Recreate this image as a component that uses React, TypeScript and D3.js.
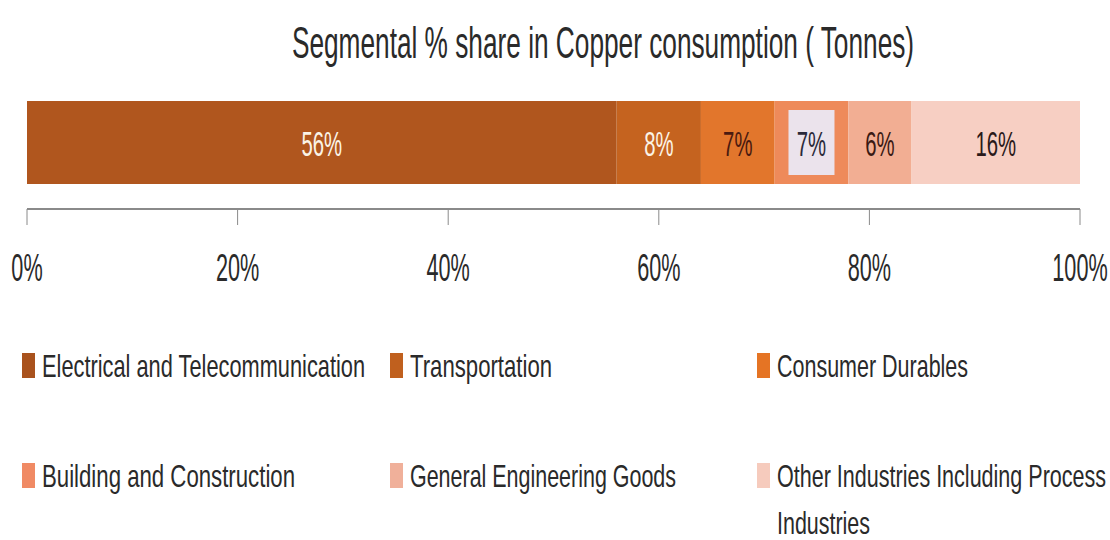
import React, { useLayoutEffect, useRef, useState } from "react";
import * as d3 from "d3";

const categories = [
  "Electrical and Telecommunication",
  "Transportation",
  "Consumer Durables",
  "Building and Construction",
  "General Engineering Goods",
  "Other Industries Including Process Industries",
];
const shares = [56, 8, 7, 7, 6, 16];
const barColors = ["#b0561e", "#c5631f", "#e2762c", "#ee8a5a", "#f2ae93", "#f7cfc3"];
const legendColors = ["#a9521d", "#c0601e", "#e57424", "#f08a64", "#f0b09a", "#f6cbbd"];
const labelColors = ["#fbf3e6", "#fbf3e6", "#4a1a10", "#2a2a3a", "#3a1a14", "#2a1a1a"];
const tickValues = [0, 20, 40, 60, 80, 100];
const legendLines = [
  ["Electrical and Telecommunication"],
  ["Transportation"],
  ["Consumer Durables"],
  ["Building and Construction"],
  ["General Engineering Goods"],
  ["Other Industries Including Process", "Industries"],
];
const legendWidths = [[323], [142], [191], [253], [266], [329, 93]];

const FONT = "'Liberation Sans', Arial, sans-serif";

// Text horizontally condensed to a target width (via scale, so its box stays true)
function FitText({ x, y, size, width, anchor = "start", fill = "#2a2a2a", children }: any) {
  const ref = useRef<SVGTextElement>(null);
  const [sx, setSx] = useState(0.62);
  useLayoutEffect(() => {
    if (ref.current && width) {
      const n = ref.current.getComputedTextLength();
      if (n > 0) setSx(width / n);
    }
  }, [width, children, size]);
  return (
    <text
      ref={ref}
      transform={`translate(${x},${y}) scale(${sx},1)`}
      textAnchor={anchor}
      fontFamily={FONT}
      fontSize={size}
      fill={fill}
    >
      {children}
    </text>
  );
}

function SText({ x, y, size, sx = 0.6, anchor = "middle", fill = "#222", children }: any) {
  return (
    <text
      transform={`translate(${x},${y}) scale(${sx},1)`}
      textAnchor={anchor}
      fontFamily={FONT}
      fontSize={size}
      fill={fill}
    >
      {children}
    </text>
  );
}

export default function App() {
  const W = 1110, H = 540;
  const x = d3.scaleLinear().domain([0, 100]).range([27, 1080]);
  const barTop = 101, barBottom = 184;
  const axisY = 209;

  let acc = 0;
  const segs = shares.map((v, i) => {
    const s = { x0: acc, x1: acc + v, v, i };
    acc += v;
    return s;
  });

  const colX = [22, 390, 757];
  const rowBase = [377, 487];

  return (
    <svg width={W} height={H} style={{ position: "absolute", left: 0, top: 0, background: "#fff" }}>
      <rect x={0} y={0} width={W} height={H} fill="#fff" />
      <FitText x={603} y={58} size={44} width={622} anchor="middle">
        Segmental % share in Copper consumption ( Tonnes)
      </FitText>

      {segs.map((s) => (
        <rect
          key={s.i}
          x={x(s.x0)}
          y={barTop}
          width={x(s.x1) - x(s.x0)}
          height={barBottom - barTop}
          fill={barColors[s.i]}
        />
      ))}
      <rect
        x={(x(segs[3].x0) + x(segs[3].x1)) / 2 - 23}
        y={110}
        width={46}
        height={65}
        fill="#ebe3ec"
      />
      {segs.map((s) => (
        <SText
          key={"l" + s.i}
          x={(x(s.x0) + x(s.x1)) / 2}
          y={156}
          size={35}
          sx={0.58}
          fill={labelColors[s.i]}
        >
          {s.v + "%"}
        </SText>
      ))}

      <line x1={x(0)} x2={x(100)} y1={axisY} y2={axisY} stroke="#8a8a8a" strokeWidth={2} />
      {tickValues.map((t) => (
        <g key={t}>
          <line x1={x(t)} x2={x(t)} y1={axisY} y2={axisY + 16} stroke="#8a8a8a" strokeWidth={1} />
          <SText x={x(t)} y={281} size={38} sx={0.57} fill="#2a2a2a">
            {t + "%"}
          </SText>
        </g>
      ))}

      {categories.map((c, i) => {
        const col = i % 3;
        const row = Math.floor(i / 3);
        return (
          <g key={"lg" + i}>
            <rect x={colX[col]} y={rowBase[row] - 24} width={13} height={25} fill={legendColors[i]} />
            {legendLines[i].map((ln, j) => (
              <FitText
                key={j}
                x={colX[col] + 20}
                y={rowBase[row] + j * 47}
                size={32}
                width={legendWidths[i][j]}
              >
                {ln}
              </FitText>
            ))}
          </g>
        );
      })}
    </svg>
  );
}
